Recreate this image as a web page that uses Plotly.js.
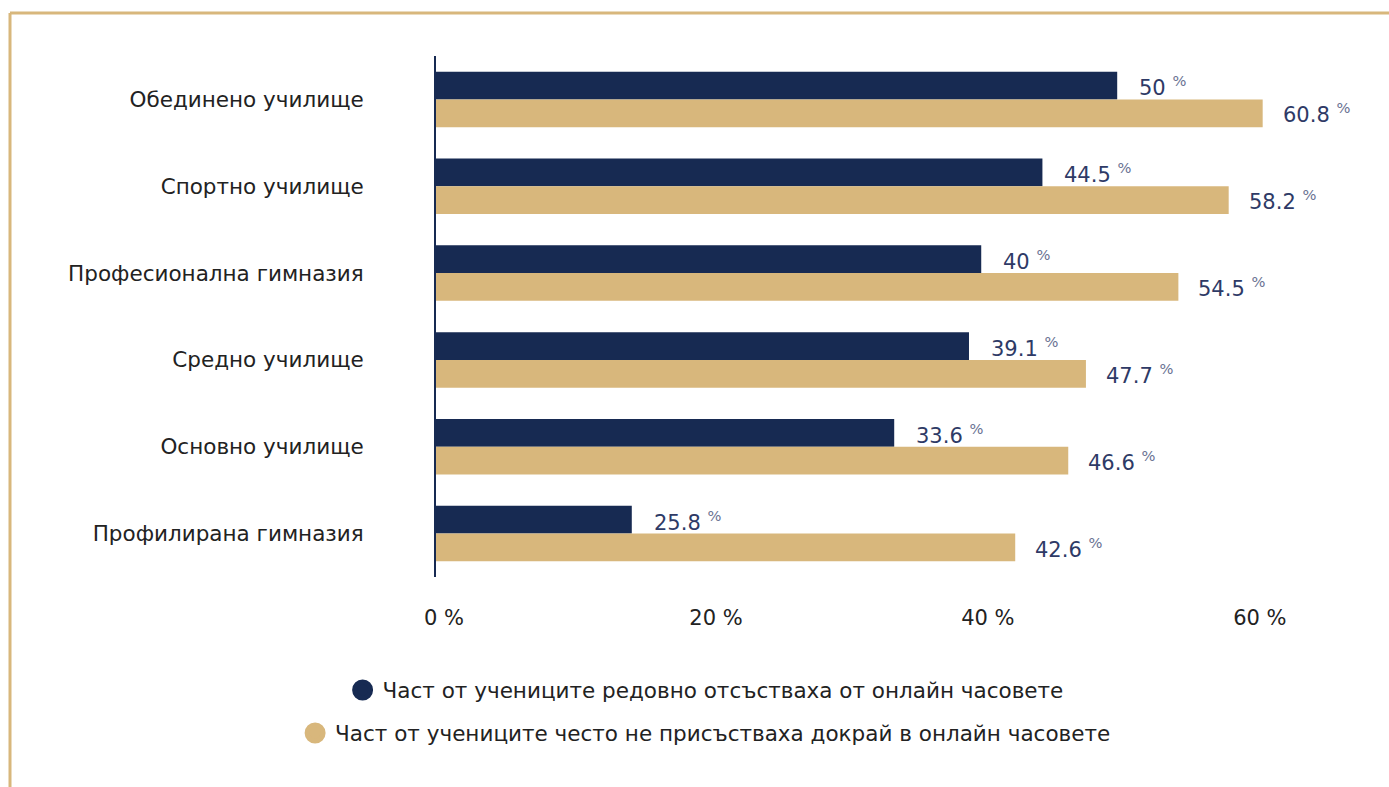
<!DOCTYPE html>
<html>
<head>
<meta charset="utf-8">
<script src="https://cdn.plot.ly/plotly-3.0.1.min.js"></script>
<style>
html, body { margin: 0; padding: 0; background: #ffffff; }
#chart { width: 1389px; height: 787px; }
</style>
</head>
<body>
<div id="chart"></div>
<script>
// Categories (top to bottom)
const categories = [
  "Обединено училище",
  "Спортно училище",
  "Професионална гимназия",
  "Средно училище",
  "Основно училище",
  "Профилирана гимназия"
];
// Series names
const seriesNames = [
  "Част от учениците редовно отсъстваха от онлайн часовете",
  "Част от учениците често не присъстваха докрай в онлайн часовете"
];
// Bar lengths as drawn in the picture
const absentBars = [50.1, 44.6, 40.1, 39.2, 33.7, 14.4];
const partialBars = [60.8, 58.3, 54.6, 47.8, 46.5, 42.6];
// Value labels as printed in the picture
const absentLabels = [50, 44.5, 40, 39.1, 33.6, 25.8];
const partialLabels = [60.8, 58.2, 54.5, 47.7, 46.6, 42.6];
// Axis ticks
const tickValues = [0, 20, 40, 60];
const tickLabels = tickValues.map(v => v + " %");

const NAVY = "#172a52";
const TAN = "#d8b77c";
const LABEL = "#2e3a66";
const FONT = "DejaVu Sans, sans-serif";

const traces = [
  { type: "bar", orientation: "h", y: categories, x: absentBars, marker: { color: NAVY },
    showlegend: false, hoverinfo: "skip" },
  { type: "bar", orientation: "h", y: categories, x: partialBars, marker: { color: TAN },
    showlegend: false, hoverinfo: "skip" },
  { type: "scatter", mode: "markers", x: [-20], y: [categories[0]], name: seriesNames[0],
    marker: { color: NAVY, size: 16, symbol: "circle", line: { color: NAVY, width: 5 } },
    legend: "legend", cliponaxis: true, hoverinfo: "skip" },
  { type: "scatter", mode: "markers", x: [-20], y: [categories[0]], name: seriesNames[1],
    marker: { color: TAN, size: 16, symbol: "circle", line: { color: TAN, width: 5 } },
    legend: "legend2", cliponaxis: true, hoverinfo: "skip" }
];

function lbl(v) {
  return v + ' <sup><span style="color:#6a7292">%</span></sup>';
}

const annotations = [];
categories.forEach((c, i) => {
  annotations.push({ x: absentBars[i], y: c, xref: "x", yref: "y", text: lbl(absentLabels[i]),
    showarrow: false, xanchor: "left", yanchor: "middle", xshift: 20, yshift: 13,
    font: { family: FONT, size: 21, color: LABEL } });
  annotations.push({ x: partialBars[i], y: c, xref: "x", yref: "y", text: lbl(partialLabels[i]),
    showarrow: false, xanchor: "left", yanchor: "middle", xshift: 18, yshift: -14,
    font: { family: FONT, size: 21, color: LABEL } });
});

const L = 436, R = 110, T = 56, B = 210;
const W = 1389 - L - R, H = 787 - T - B;
const px = p => (p - L) / W;
const py = p => (787 - B - p) / H;

const layout = {
  width: 1389, height: 787,
  margin: { l: L, r: R, t: T, b: B, autoexpand: false },
  paper_bgcolor: "#ffffff", plot_bgcolor: "#ffffff",
  font: { family: FONT, size: 20, color: "#222222" },
  barmode: "group", bargap: 0.36, bargroupgap: 0,
  xaxis: { range: [0, 62], autorange: false, tickmode: "array", tickvals: tickValues, ticktext: tickLabels,
    showgrid: false, zeroline: false, showline: false, ticks: "", ticklabelstandoff: 26, ticklabelshift: 8,
    tickfont: { family: FONT, size: 21, color: "#222222" } },
  yaxis: { type: "category", categoryorder: "array", categoryarray: categories,
    range: [categories.length - 0.5, -0.5], autorange: false, showgrid: false, zeroline: false,
    showline: true, linecolor: NAVY, linewidth: 2, ticks: "", ticklabelstandoff: 66,
    tickfont: { family: FONT, size: 21.5, color: "#222222" } },
  legend: { x: 0.508, xref: "container", xanchor: "center", y: 1 - 690 / 787, yref: "container",
    yanchor: "middle", orientation: "v", font: { family: FONT, size: 21.5, color: "#222222" },
    bgcolor: "rgba(0,0,0,0)" },
  legend2: { x: 0.508, xref: "container", xanchor: "center", y: 1 - 733 / 787, yref: "container",
    yanchor: "middle", orientation: "v", font: { family: FONT, size: 21.5, color: "#222222" },
    bgcolor: "rgba(0,0,0,0)" },
  shapes: [
    { type: "line", xref: "paper", yref: "paper", x0: px(10), x1: px(1392), y0: py(13), y1: py(13),
      line: { color: TAN, width: 3 } },
    { type: "line", xref: "paper", yref: "paper", x0: px(10), x1: px(10), y0: py(13), y1: py(790),
      line: { color: TAN, width: 3 } }
  ],
  annotations: annotations
};

Plotly.newPlot("chart", traces, layout, { displayModeBar: false, staticPlot: true });
</script>
</body>
</html>
